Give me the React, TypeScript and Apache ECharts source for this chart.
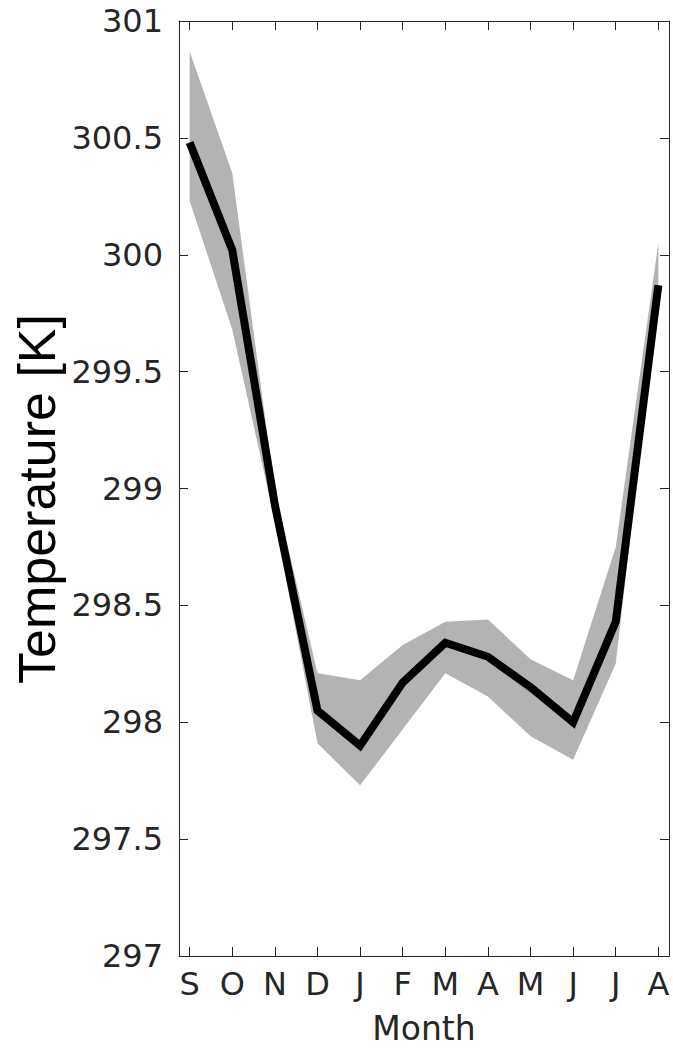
import React, { useEffect, useRef } from "react";
import * as echarts from "echarts";

const months = ["S", "O", "N", "D", "J", "F", "M", "A", "M", "J", "J", "A"];
const monthPos = [1, 2, 3, 4, 5, 6, 7, 8, 9, 10, 11, 12];
const meanTemp = [300.48, 300.02, 298.93, 298.05, 297.9, 298.17, 298.34, 298.28, 298.15, 298.0, 298.43, 299.87];
const upperTemp = [300.87, 300.35, 298.99, 298.21, 298.18, 298.33, 298.43, 298.44, 298.27, 298.18, 298.75, 300.05];
const lowerTemp = [300.23, 299.68, 298.86, 297.91, 297.73, 297.97, 298.21, 298.11, 297.94, 297.84, 298.25, 299.83];

const axisColor = "#262626";
const labelFont = "DejaVu Sans";

export default function App() {
  const ref = useRef<HTMLDivElement>(null);
  useEffect(() => {
    if (!ref.current) return;
    const chart = echarts.init(ref.current, null, { renderer: "svg" });
    const tickBase = {
      show: true,
      inside: true,
      length: 9,
      lineStyle: { color: axisColor, width: 1 },
    };
    const lineBase = { show: true, onZero: false, lineStyle: { color: axisColor, width: 1 } };
    chart.setOption({
      animation: false,
      backgroundColor: "#ffffff",
      grid: { left: 179, right: 4, top: 21, bottom: 91, containLabel: false },
      xAxis: [
        {
          type: "value",
          position: "bottom",
          min: 0.75,
          max: 12.25,
          axisLine: lineBase,
          axisTick: { ...tickBase, customValues: monthPos },
          axisLabel: {
            customValues: monthPos,
            formatter: (v: number) => months[Math.round(v) - 1] ?? "",
            fontFamily: labelFont,
            fontSize: 32,
            color: axisColor,
            margin: 12,
          },
          splitLine: { show: false },
          name: "Month",
          nameLocation: "middle",
          nameGap: 56,
          nameTextStyle: { fontFamily: labelFont, fontSize: 33, color: axisColor },
        },
        {
          type: "value",
          position: "top",
          min: 0.75,
          max: 12.25,
          axisLine: lineBase,
          axisTick: { ...tickBase, customValues: monthPos },
          axisLabel: { show: false },
          splitLine: { show: false },
        },
      ],
      yAxis: [
        {
          type: "value",
          position: "left",
          min: 297,
          max: 301,
          interval: 0.5,
          axisLine: lineBase,
          axisTick: tickBase,
          axisLabel: {
            fontFamily: labelFont,
            fontSize: 32,
            color: axisColor,
            margin: 16,
          },
          splitLine: { show: false },
        },
        {
          type: "value",
          position: "right",
          min: 297,
          max: 301,
          interval: 0.5,
          axisLine: lineBase,
          axisTick: tickBase,
          axisLabel: { show: false },
          splitLine: { show: false },
        },
      ],
      graphic: [
        {
          type: "text",
          x: 37,
          y: 499,
          rotation: Math.PI / 2,
          style: {
            text: "Temperature [K]",
            font: '52px "Liberation Sans", Arial, sans-serif',
            fill: "#000000",
            textAlign: "center",
            textVerticalAlign: "middle",
          },
        },
      ],
      series: [
        {
          type: "custom",
          xAxisIndex: 0,
          yAxisIndex: 0,
          clip: false,
          silent: true,
          data: monthPos.map((x, i) => [x, lowerTemp[i], upperTemp[i]]),
          encode: { x: 0, y: [1, 2] },
          renderItem: (params: any, api: any) => {
            if (params.dataIndex !== 0) return null;
            const pts: number[][] = [];
            for (let i = 0; i < monthPos.length; i++) pts.push(api.coord([monthPos[i], upperTemp[i]]));
            for (let i = monthPos.length - 1; i >= 0; i--) pts.push(api.coord([monthPos[i], lowerTemp[i]]));
            return {
              type: "polygon",
              shape: { points: pts },
              style: { fill: "#b3b3b3", stroke: "none" },
            };
          },
          z: 1,
        },
        {
          type: "line",
          xAxisIndex: 0,
          yAxisIndex: 0,
          data: monthPos.map((x, i) => [x, meanTemp[i]]),
          symbol: "none",
          lineStyle: { color: "#000000", width: 8, join: "miter" },
          z: 3,
        },
      ],
    });
    return () => chart.dispose();
  }, []);
  return (
    <div
      ref={ref}
      style={{ position: "absolute", left: 0, top: 0, width: 673, height: 1050 }}
    />
  );
}
